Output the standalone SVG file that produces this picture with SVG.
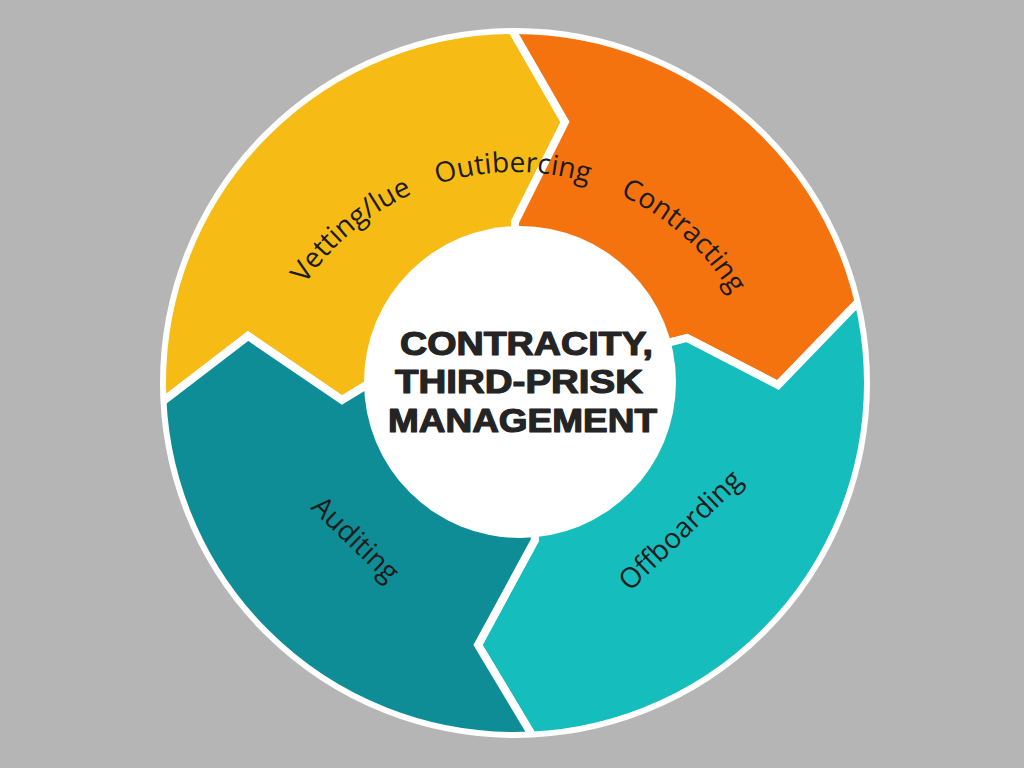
<svg xmlns="http://www.w3.org/2000/svg" width="1024" height="768" viewBox="0 0 1024 768">
  <defs>
    <clipPath id="ring">
      <circle cx="515" cy="383" r="351"/>
    </clipPath>
    <path id="arcText" d="M 263 424 A 252 252 0 0 1 767 424" fill="none"/>
    <style>
      .seg { stroke: #ffffff; stroke-width: 8; stroke-linejoin: miter; }
      .label { font-family: "Open Sans", "Liberation Sans", sans-serif; font-size: 28px; fill: #1b1b1b; }
      .title { font-family: "Liberation Sans", Arial, sans-serif; font-size: 33px; font-weight: 700; fill: #242424; stroke: #242424; stroke-width: 1.2; stroke-linejoin: round; }
    </style>
  </defs>

  <rect x="0" y="0" width="1024" height="768" fill="#b4b5b4"/>

  <g id="segments" clip-path="url(#ring)">
    <g id="vetting">
      <path class="seg" fill="#f6bb14" d="M 110 442 L 248 336 L 342 400 L 365 386 L 517 382 L 515 222 L 565 122 L 489 -10 L 100 -10 L 100 442 Z"/>
    </g>
    <g id="contracting">
      <path class="seg" fill="#f4730f" d="M 489 -10 L 565 122 L 515 222 L 517 382 L 687 338 L 778 385 L 920 238 L 920 -10 Z"/>
    </g>
    <g id="offboarding">
      <path class="seg" fill="#16bdbd" d="M 920 238 L 778 385 L 687 338 L 517 382 L 535 540 L 478 645 L 532 735 L 556 775 L 920 775 Z"/>
    </g>
    <g id="auditing">
      <path class="seg" fill="#0f8d97" d="M 556 775 L 532 735 L 478 645 L 535 540 L 517 382 L 365 386 L 342 400 L 248 336 L 110 442 L 100 775 Z"/>
    </g>
  </g>

  <circle id="outer-border" cx="515" cy="383" r="352" fill="none" stroke="#ffffff" stroke-width="6"/>

  <g id="labels">
    <text class="label"><textPath href="#arcText" startOffset="148">Vetting/lue</textPath></text>
    <text class="label"><textPath href="#arcText" startOffset="317">Outibercing</textPath></text>
    <text class="label"><textPath href="#arcText" startOffset="504">Contracting</textPath></text>
    <text class="label" font-size="26" text-anchor="middle" transform="translate(349 546) rotate(44)">Auditing</text>
    <text class="label" font-size="26" text-anchor="middle" transform="translate(687 537) rotate(-44)">Offboarding</text>
  </g>

  <g id="center">
    <circle cx="520" cy="382" r="156" fill="#ffffff"/>
    <text class="title" x="400" y="355" textLength="253" lengthAdjust="spacingAndGlyphs">CONTRACITY,</text>
    <text class="title" x="395" y="393" textLength="248" lengthAdjust="spacingAndGlyphs">THIRD-PRISK</text>
    <text class="title" x="388" y="432" textLength="269" lengthAdjust="spacingAndGlyphs">MANAGEMENT</text>
  </g>
</svg>
